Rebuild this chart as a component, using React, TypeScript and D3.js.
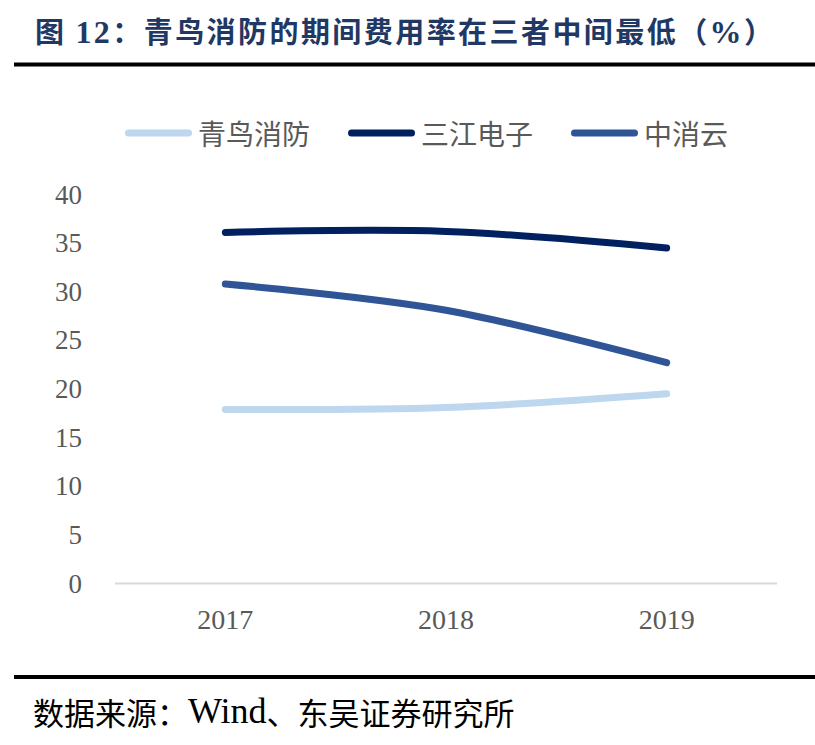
import React from "react";
import * as d3 from "d3";

const years = ["2017", "2018", "2019"];
const seriesNames = ["青鸟消防", "三江电子", "中消云"];
const qingniao = [17.9, 18.1, 19.5];
const sanjiang = [36.1, 36.2, 34.5];
const zhongxiaoyun = [30.8, 28.1, 22.7];
const yTicks = [0, 5, 10, 15, 20, 25, 30, 35, 40];
const colors = ["#BDD7EE", "#002060", "#2F5597"];

const W = 815;
const H = 745;

export default function App() {
  const x = d3.scaleBand<string>().domain(years).range([115, 777]);
  const y = d3.scaleLinear().domain([0, 40]).range([583.5, 194.5]);
  const cx = (d: string) => (x(d) as number) + x.bandwidth() / 2;
  const line = d3
    .line<number>()
    .x((_, i) => cx(years[i]))
    .y((v) => y(v))
    .curve(d3.curveCardinal.tension(0));

  const series = [qingniao, sanjiang, zhongxiaoyun];
  const legendX = [125, 348, 571];
  const legendY = 133;
  const serif = "'Liberation Serif', 'Times New Roman', serif";
  const cjk = "'Noto Sans CJK SC', sans-serif";

  return (
    <svg
      width={W}
      height={H}
      viewBox={`0 0 ${W} ${H}`}
      style={{ position: "absolute", left: 0, top: 0, display: "block", background: "#fff" }}
    >
      <rect x={0} y={0} width={W} height={H} fill="#fff" />
      {/* Title */}
      <text
        x={35}
        y={43}
        fontSize={29}
        fontWeight="bold"
        fill="#1F3864"
        textLength={738}
        lengthAdjust="spacing"
      >
        <tspan fontFamily={cjk}>图 </tspan>
        <tspan fontFamily={serif} fontSize={32}>12</tspan>
        <tspan fontFamily={cjk}>：青鸟消防的期间费用率在三者中间最低（</tspan>
        <tspan fontFamily={serif} fontSize={32}>%</tspan>
        <tspan fontFamily={cjk}>）</tspan>
      </text>
      <rect x={14} y={62.5} width={W - 14} height={4} fill="#000" />

      {/* Legend */}
      {seriesNames.map((name, i) => (
        <g key={name}>
          <line
            x1={legendX[i] + 3.5}
            x2={legendX[i] + 63.5}
            y1={legendY}
            y2={legendY}
            stroke={colors[i]}
            strokeWidth={7}
            strokeLinecap="round"
          />
          <text
            x={legendX[i] + 73}
            y={legendY}
            dominantBaseline="central"
            fontFamily={cjk}
            fontSize={28}
            fill="#595959"
          >
            {name}
          </text>
        </g>
      ))}

      {/* Y axis tick labels */}
      {yTicks.map((t) => (
        <text
          key={t}
          x={82}
          y={y(t)}
          textAnchor="end"
          dominantBaseline="central"
          fontFamily={serif}
          fontSize={27}
          fill="#595959"
        >
          {t}
        </text>
      ))}

      {/* X axis line */}
      <line x1={115} x2={777} y1={y(0)} y2={y(0)} stroke="#D9D9D9" strokeWidth={2} />
      {years.map((yr) => (
        <text
          key={yr}
          x={cx(yr)}
          y={619}
          textAnchor="middle"
          dominantBaseline="central"
          fontFamily={serif}
          fontSize={28}
          fill="#595959"
        >
          {yr}
        </text>
      ))}

      {/* Lines */}
      {series.map((s, i) => (
        <path
          key={seriesNames[i]}
          d={line(s) || ""}
          fill="none"
          stroke={colors[i]}
          strokeWidth={7}
          strokeLinecap="round"
          strokeLinejoin="round"
        />
      ))}

      {/* Footer */}
      <rect x={14} y={675} width={W - 14} height={4} fill="#000" />
      <text x={33} y={711} fontSize={31} fill="#000" dominantBaseline="central">
        <tspan fontFamily={cjk}>数据来源：</tspan>
        <tspan fontFamily={serif} fontSize={36}>Wind</tspan>
        <tspan fontFamily={cjk}>、东吴证券研究所</tspan>
      </text>
    </svg>
  );
}
